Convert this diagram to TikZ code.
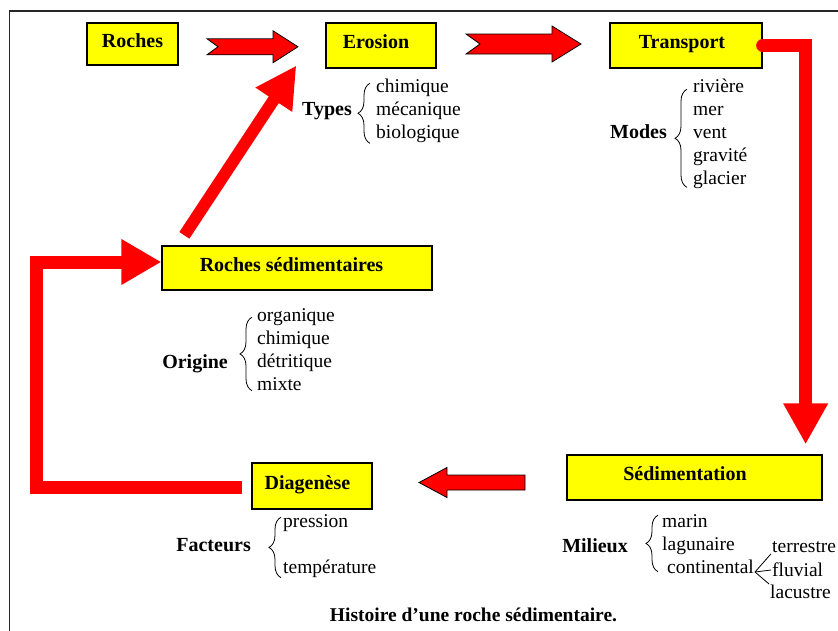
\documentclass[tikz,border=0pt]{standalone}
\usepackage{fontspec}
\setmainfont{Liberation Serif}
\usepackage{tikz}
\usetikzlibrary{
  	calc,
  	positioning,
  	arrows.meta,
		decorations.pathreplacing
  }
\definecolor{jaune}{RGB}{255,255,0}
\definecolor{rouge}{RGB}{255,0,0}
\tikzstyle{etape}=[draw=black,fill=jaune,line width=1.3pt,inner sep=0pt,text height=14pt,text depth=8pt,font=\fontsize{20}{24}\selectfont\bfseries]
\tikzstyle{etiq}=[inner sep=0pt,anchor=east,text height=14pt,text depth=4pt,font=\fontsize{20}{24}\selectfont\bfseries]
\tikzstyle{liste}=[align=left,inner sep=0pt,anchor=north west,font=\fontsize{19.5}{23}\selectfont]
\tikzstyle{sous}=[inner sep=1pt,anchor=west,font=\fontsize{19.5}{23}\selectfont]
\tikzstyle{gros}=[draw=black,fill=rouge,line width=0.8pt,line join=miter]
\tikzstyle{trait}=[draw=rouge,line width=13pt,line join=miter]
\tikzstyle{accolade}=[draw=black,line width=0.8pt,decorate,decoration={brace,amplitude=12pt}]

\begin{document}
\begin{tikzpicture}[x=1pt,y=-1pt]
\useasboundingbox (0,0) rectangle (838,630);
\draw[line width=1.4pt,black!85] (9.5,640) -- (9.5,11) -- (850,11);

% les etapes
\node[etape,minimum width=91pt,minimum height=42pt] (roches) at (132.5,44) {Roches};
\node[etape,minimum width=110pt,minimum height=45pt] (erosion) at (381,45.5) {Erosion\kern10pt};
\node[etape,minimum width=152pt,minimum height=45pt] (transport) at (686,45.5) {Transport\kern8pt};
\node[etape,minimum width=270pt,minimum height=44pt] (rochesed) at (297,268) {Roches sédimentaires\kern11pt};
\node[etape,minimum width=120pt,minimum height=46pt] (diagenese) at (312,486) {Diagenèse\kern9pt};
\node[etape,minimum width=255pt,minimum height=45pt] (sedim) at (694.5,477.5) {Sédimentation\kern19pt};

% les listes
\node[liste] (types) at (376,79.2) {chimique\\mécanique\\biologique};
\node[liste] (modes) at (693,79.2) {rivière\\mer\\vent\\gravité\\glacier};
\node[liste] (origine) at (257,308.2) {organique\\chimique\\détritique\\mixte};
\node[liste] (facteurs) at (283,514.2) {pression\\[23pt]température};
\node[liste] (milieux) at (662,514.2) {marin\\lagunaire\\\hspace*{5pt}continental};
\node[sous] (terrestre) at (771,547) {terrestre};
\node[sous] (fluvial) at (771,570) {fluvial};
\node[sous] (lacustre) at (769,592) {lacustre};
\coordinate (fourche) at (755,572);

\node[etiq] (typesl) at (352,110) {Types};
\node[etiq] (modesl) at (667,133) {Modes};
\node[etiq] (originel) at (228,363) {Origine};
\node[etiq] (facteursl) at (251,546) {Facteurs};
\node[etiq] (milieuxl) at (628,547) {Milieux};

\draw[accolade] ($(types.south west)+(-6,0)$) -- ($(types.north west)+(-6,4)$);
\draw[accolade] ($(modes.south west)+(-6,-2)$) -- ($(modes.north west)+(-6,10)$);
\draw[accolade] ($(origine.south west)+(-5,0)$) -- ($(origine.north west)+(-5,9)$);
\draw[accolade] ($(facteurs.south west)+(-2,0)$) -- ($(facteurs.north west)+(-2,3)$);
\draw[accolade] ($(milieux.south west)+(-4,-2)$) -- ($(milieux.north west)+(-4,1)$);

\draw[line width=0.8pt] (fourche) -- (terrestre.south west);
\draw[line width=0.8pt] (fourche) -- (fluvial.west);
\draw[line width=0.8pt] (fourche) -- (lacustre.north west);

% les fleches
\coordinate (m1) at ($(roches.east)!.5!(erosion.west)+(0,2)$);
\draw[gros] ($(m1)+(-45,-8)$) -- ($(m1)+(21,-8)$) -- ($(m1)+(21,-16)$) -- ($(m1)+(46,0)$) -- ($(m1)+(21,16)$) -- ($(m1)+(21,8)$) -- ($(m1)+(-45,8)$) -- ($(m1)+(-34,0)$) -- cycle;
\coordinate (m2) at ($(erosion.east)!.5!(transport.west)+(0,-1.5)$);
\draw[gros] ($(m2)+(-57,-10)$) -- ($(m2)+(29,-10)$) -- ($(m2)+(29,-18)$) -- ($(m2)+(58,0)$) -- ($(m2)+(29,18)$) -- ($(m2)+(29,10)$) -- ($(m2)+(-57,10)$) -- ($(m2)+(-43,0)$) -- cycle;
\coordinate (m3) at ($(diagenese.east)!.5!(sedim.west)+(0,0.75)$);
\draw[gros] ($(m3)+(55.5,-7.5)$) -- ($(m3)+(-22.5,-7.5)$) -- ($(m3)+(-22.5,-15)$) -- ($(m3)+(-50.5,0)$) -- ($(m3)+(-22.5,15)$) -- ($(m3)+(-22.5,7.5)$) -- ($(m3)+(55.5,7.5)$) -- cycle;

\draw[trait,line cap=round,-{Triangle[width=42pt,length=41pt]}] (transport.east) -| ($(sedim.north east)+(-17,-10)$);
\draw[trait,-{Triangle[width=43pt,length=40pt]}] ($(diagenese.west)+(-9,1)$) -- ++(-206,0) |- ($(rochesed.west)+(0,-6)$);
\draw[trait,line width=12pt,-{Triangle[width=41pt,length=41pt]}] ($(rochesed.north west)+(23,-10)$) -- ($(erosion.west)+(-29,20)$);

\node[inner sep=0pt,font=\fontsize{19.5}{23}\selectfont\bfseries] (titre) at (473.5,615) {Histoire d’une roche sédimentaire.};
\end{tikzpicture}
\end{document}
